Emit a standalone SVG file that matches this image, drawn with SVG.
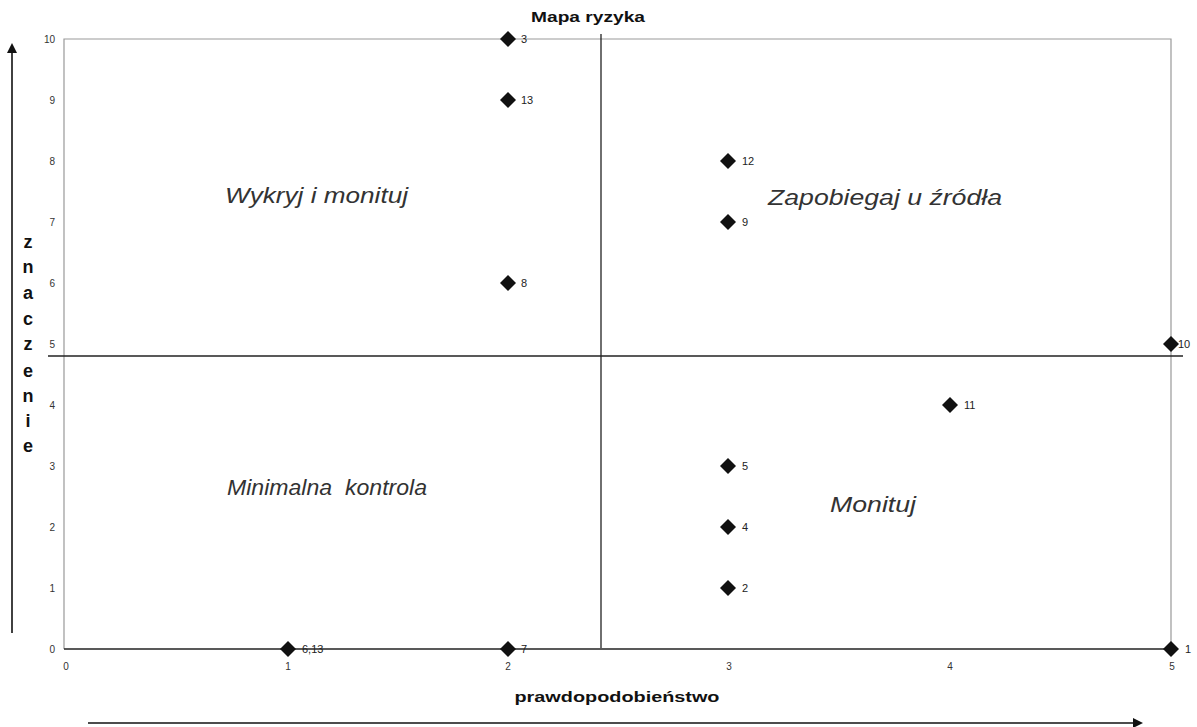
<svg xmlns="http://www.w3.org/2000/svg" width="1197" height="727" viewBox="0 0 1197 727">
<style>
.tick{font-family:"Liberation Sans",Arial,sans-serif;font-size:10px;fill:#333}
.pl{font-family:"Liberation Sans",Arial,sans-serif;font-size:11px;fill:#222}
.q{font-family:"Liberation Sans",Arial,sans-serif;font-size:22px;font-style:italic;fill:#333;white-space:pre}
.b{font-family:"Liberation Sans",Arial,sans-serif;font-weight:bold;fill:#111}
.pt{fill:#111}
</style>
<defs>
<path id="d" d="M0,-8 L8,0 L0,8 L-8,0 Z"/>
</defs>
<rect width="1197" height="727" fill="#fff"/>
<g id="frame">
<path d="M64,649 V39 H1171 V649" fill="none" stroke="#999" stroke-width="1.2"/>
<line x1="64" y1="649" x2="1171" y2="649" stroke="#222" stroke-width="1.3"/>
</g>
<g id="dividers" stroke="#222" stroke-width="1.3">
<line x1="48" y1="356" x2="1183" y2="356"/>
<line x1="601" y1="34" x2="601" y2="648"/>
</g>
<g id="connectors">
<line x1="12" y1="633" x2="12" y2="52" stroke="#111" stroke-width="1.6"/>
<path d="M12,43 L7,53 L17,53 Z" fill="#111"/>
<line x1="88" y1="723" x2="1134" y2="723" stroke="#111" stroke-width="1.6"/>
<path d="M1143,723 L1133,718 L1133,728 Z" fill="#111"/>
</g>
<g id="yticks" class="tick" text-anchor="end">
<text x="55" y="43">10</text><text x="55" y="104">9</text><text x="55" y="165">8</text>
<text x="55" y="226">7</text><text x="55" y="287">6</text><text x="55" y="348">5</text>
<text x="55" y="409">4</text><text x="55" y="470">3</text><text x="55" y="531">2</text>
<text x="55" y="592">1</text><text x="55" y="653">0</text>
</g>
<g id="xticks" class="tick" text-anchor="middle">
<text x="66" y="670">0</text><text x="288" y="670">1</text><text x="508" y="670">2</text>
<text x="729" y="670">3</text><text x="950" y="670">4</text><text x="1172" y="670">5</text>
</g>
<g id="title"><text class="b" x="588" y="22" font-size="15" text-anchor="middle" textLength="114" lengthAdjust="spacingAndGlyphs">Mapa ryzyka</text></g>
<g id="xlabel"><text class="b" x="617" y="702" font-size="15" text-anchor="middle" textLength="205" lengthAdjust="spacingAndGlyphs">prawdopodobieństwo</text></g>
<g id="ylabel" class="b" font-size="18" text-anchor="middle">
<text x="28" y="248">z</text><text x="28" y="273">n</text><text x="28" y="299">a</text>
<text x="28" y="325">c</text><text x="28" y="350">z</text><text x="28" y="377">e</text>
<text x="28" y="402">n</text><text x="28" y="427">i</text><text x="28" y="452">e</text>
</g>
<g id="q1"><text class="q" x="225" y="203" textLength="183" lengthAdjust="spacingAndGlyphs">Wykryj i monituj</text></g>
<g id="q2"><text class="q" x="768" y="205" textLength="234" lengthAdjust="spacingAndGlyphs">Zapobiegaj u źródła</text></g>
<g id="q3"><text class="q" x="227" y="495" textLength="200" lengthAdjust="spacingAndGlyphs" xml:space="preserve">Minimalna  kontrola</text></g>
<g id="q4"><text class="q" x="830" y="512" textLength="86" lengthAdjust="spacingAndGlyphs">Monituj</text></g>
<g id="p3"><use href="#d" class="pt" x="508" y="39"/><text class="pl" x="521" y="43">3</text></g>
<g id="p13"><use href="#d" class="pt" x="508" y="100"/><text class="pl" x="521" y="104">13</text></g>
<g id="p12"><use href="#d" class="pt" x="728" y="161"/><text class="pl" x="742" y="165">12</text></g>
<g id="p9"><use href="#d" class="pt" x="728" y="222"/><text class="pl" x="742" y="226">9</text></g>
<g id="p8"><use href="#d" class="pt" x="508" y="283"/><text class="pl" x="521" y="287">8</text></g>
<g id="p10"><use href="#d" class="pt" x="1171" y="344"/><text class="pl" x="1178" y="348">10</text></g>
<g id="p11"><use href="#d" class="pt" x="950" y="405"/><text class="pl" x="964" y="409">11</text></g>
<g id="p5"><use href="#d" class="pt" x="728" y="466"/><text class="pl" x="742" y="470">5</text></g>
<g id="p4"><use href="#d" class="pt" x="728" y="527"/><text class="pl" x="742" y="531">4</text></g>
<g id="p2"><use href="#d" class="pt" x="728" y="588"/><text class="pl" x="742" y="592">2</text></g>
<g id="p6_13"><use href="#d" class="pt" x="288" y="649"/><text class="pl" x="302" y="653">6,13</text></g>
<g id="p7"><use href="#d" class="pt" x="508" y="649"/><text class="pl" x="521" y="653">7</text></g>
<g id="p1"><use href="#d" class="pt" x="1171" y="649"/><text class="pl" x="1185" y="653">1</text></g>
</svg>
